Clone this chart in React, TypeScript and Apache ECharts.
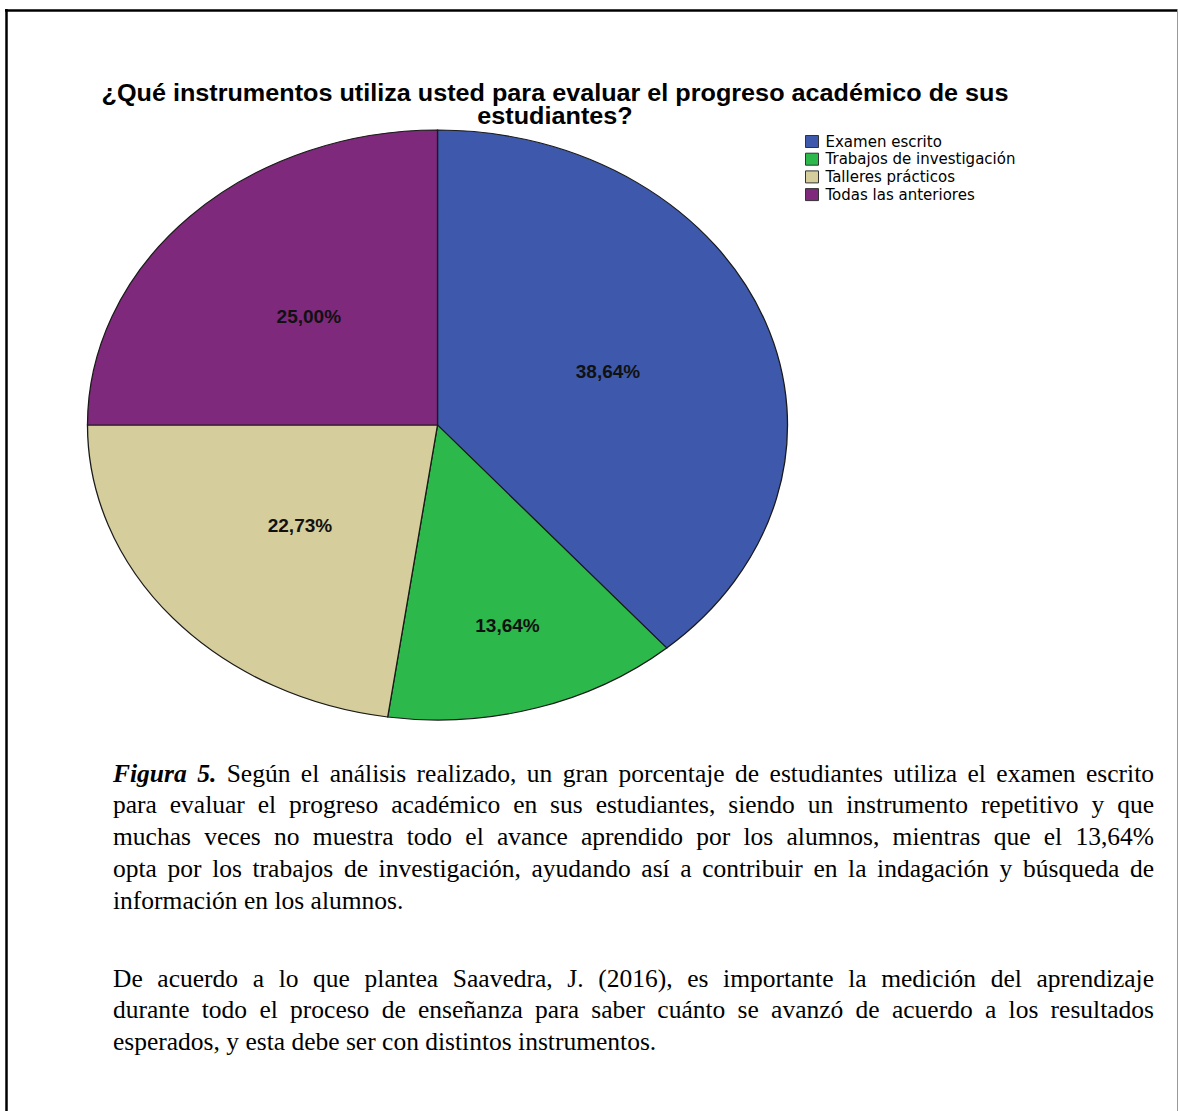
import React, { useEffect, useRef } from "react";
import * as echarts from "echarts";

// ---------- data ----------
const titleLines = [
  "¿Qué instrumentos utiliza usted para evaluar el progreso académico de sus",
  "estudiantes?",
];
const categories = [
  "Examen escrito",
  "Trabajos de investigación",
  "Talleres prácticos",
  "Todas las anteriores",
];
const counts = [17, 6, 10, 11];
const colors = ["#3E59AC", "#2DB84B", "#D5CD9B", "#7E297B"];

const captionLead = ["Figura", "5."];
const captionP1 = [
  "Según el análisis realizado, un gran porcentaje de estudiantes utiliza el examen escrito",
  "para evaluar el progreso académico en sus estudiantes, siendo un instrumento repetitivo y que",
  "muchas veces no muestra todo el avance aprendido por los alumnos, mientras que el 13,64%",
  "opta por los trabajos de investigación, ayudando así a contribuir en la indagación y búsqueda de",
  "información en los alumnos.",
];
const captionP2 = [
  "De acuerdo a lo que plantea Saavedra, J. (2016), es importante la medición del aprendizaje",
  "durante todo el proceso de enseñanza para saber cuánto se avanzó de acuerdo a los resultados",
  "esperados, y esta debe ser con distintos instrumentos.",
];

// ---------- layout ----------
const W = 1179;
const H = 1111;
const CX = 437.5;
const CY = 425;
const RX = 350;
const RY = 295;
const CAP_LEFT = 113;
const CAP_RIGHT = 1154;
const CAP_SIZE = 25.5;
const CAP_Y = [[773, 804.5, 836, 868, 900], [978, 1009.5, 1041]];
const TITLE_Y = [92.5, 115.5];

const total = counts.reduce((a, b) => a + b, 0);
const fmtPct = (v: number) => ((v / total) * 100).toFixed(2).replace(".", ",") + "%";

function captionGraphics(): any[] {
  const canvas = document.createElement("canvas");
  const ctx = canvas.getContext("2d")!;
  const fam = '"Liberation Serif", "Times New Roman", serif';
  const out: any[] = [];
  const paras = [captionP1, captionP2];
  paras.forEach((para, pi) => {
    para.forEach((line, li) => {
      let words = line.split(" ");
      let boldCount = 0;
      if (pi === 0 && li === 0) {
        words = [...captionLead, ...words];
        boldCount = captionLead.length;
      }
      const widths = words.map((w, k) => {
        ctx.font = k < boldCount ? `italic bold ${CAP_SIZE}px ${fam}` : `${CAP_SIZE}px ${fam}`;
        return ctx.measureText(w).width;
      });
      ctx.font = `${CAP_SIZE}px ${fam}`;
      const sp = ctx.measureText(" ").width;
      const sum = widths.reduce((a, b) => a + b, 0);
      const isLast = li === para.length - 1;
      let gap = isLast ? sp : (CAP_RIGHT - CAP_LEFT - sum) / (words.length - 1);
      if (gap < sp * 0.5) gap = sp * 0.5;
      let x = CAP_LEFT;
      const y = CAP_Y[pi][li];
      words.forEach((w, k) => {
        out.push({
          type: "text",
          x,
          y,
          silent: true,
          style: {
            text: w,
            fill: "#000",
            fontFamily: "Liberation Serif",
            fontSize: CAP_SIZE,
            fontWeight: k < boldCount ? "bold" : "normal",
            fontStyle: k < boldCount ? "italic" : "normal",
            verticalAlign: "middle",
            align: "left",
          },
        });
        x += widths[k] + gap;
      });
    });
  });
  return out;
}

export default function App() {
  const ref = useRef<HTMLDivElement>(null);
  useEffect(() => {
    if (!ref.current) return;
    const chart = echarts.init(ref.current, null, { renderer: "svg" });

    const series = categories.map((name, i) => ({
      type: "custom",
      name,
      coordinateSystem: "none",
      itemStyle: { color: colors[i] },
      data: [[counts[i]]],
      renderItem: (_params: any, api: any) => {
        const v = api.value(0);
        let before = 0;
        for (let k = 0; k < i; k++) before += counts[k];
        const frac = v / total;
        const a0 = -Math.PI / 2 + (before / total) * Math.PI * 2;
        const a1 = a0 + frac * Math.PI * 2;
        const mid = (a0 + a1) / 2;
        const f = frac < 0.2 ? 0.71 : 0.52;
        return {
          type: "group",
          children: [
            {
              type: "sector",
              x: CX,
              y: CY,
              scaleY: RY / RX,
              shape: { cx: 0, cy: 0, r0: 0, r: RX, startAngle: a0, endAngle: a1, clockwise: true },
              style: { fill: colors[i], stroke: "#1a1a1a", lineWidth: 1.3, strokeNoScale: true },
            },
            {
              type: "text",
              x: CX + f * RX * Math.cos(mid),
              y: CY + f * RY * Math.sin(mid),
              style: {
                text: fmtPct(v),
                fill: "#111",
                fontFamily: "Liberation Sans",
                fontWeight: "bold",
                fontSize: 19,
                align: "center",
                verticalAlign: "middle",
              },
            },
          ],
        };
      },
    }));

    const option: any = {
      animation: false,
      backgroundColor: "#ffffff",
      legend: {
        data: categories,
        orient: "vertical",
        left: 805,
        top: 134,
        padding: 0,
        icon: "rect",
        itemWidth: 13,
        itemHeight: 12,
        itemGap: 2.7,
        selectedMode: false,
        itemStyle: { borderColor: "#333", borderWidth: 1 },
        textStyle: {
          fontFamily: "DejaVu Sans",
          fontSize: 15,
          color: "#000",
          padding: [0, 0, 0, 2],
        },
      },
      graphic: [
        ...titleLines.map((t, k) => ({
          type: "text",
          x: 555,
          y: TITLE_Y[k],
          scaleX: 1.05,
          style: {
            text: t,
            fill: "#000",
            fontFamily: "Liberation Sans",
            fontWeight: "bold",
            fontSize: 24,
            lineHeight: 23,
            align: "center",
            verticalAlign: "middle",
          },
        })),
        {
          type: "line",
          shape: { x1: 5, y1: 10.5, x2: 1178, y2: 10.5 },
          style: { stroke: "#000", lineWidth: 2.5 },
        },
        {
          type: "line",
          shape: { x1: 6.5, y1: 9, x2: 6.5, y2: H },
          style: { stroke: "#000", lineWidth: 2.5 },
        },
        {
          type: "line",
          shape: { x1: 1177.5, y1: 9, x2: 1177.5, y2: H },
          style: { stroke: "#999", lineWidth: 1 },
        },
        ...captionGraphics(),
      ],
      series,
    };
    chart.setOption(option);
    return () => chart.dispose();
  }, []);

  return (
    <div
      ref={ref}
      style={{ position: "absolute", left: 0, top: 0, width: W, height: H, background: "#fff" }}
    />
  );
}
